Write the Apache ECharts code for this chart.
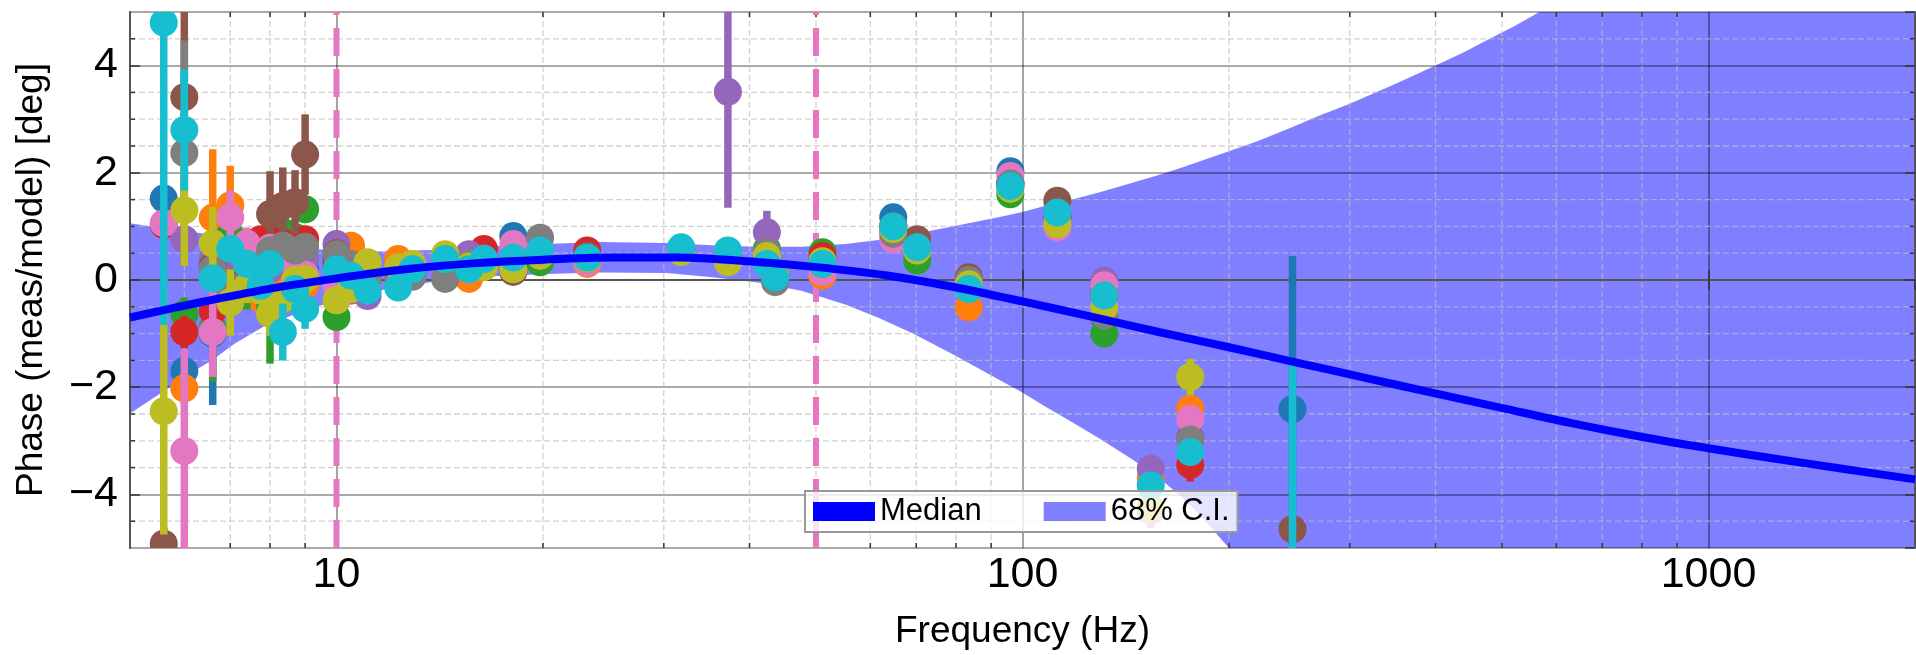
<!DOCTYPE html>
<html>
<head>
<meta charset="utf-8">
<title>Phase residual vs frequency</title>
<script src="https://cdn.jsdelivr.net/npm/echarts@6/dist/echarts.min.js"></script>
<style>
  html, body { margin: 0; padding: 0; background: #ffffff; }
  #chart { width: 1916px; height: 655px; }
</style>
</head>
<body>
<div id="chart"></div>
<script>
// ---------------------------------------------------------------------------
// Data
// ---------------------------------------------------------------------------

// Measurement frequencies (Hz), shared by the ten data sets
const freqs = [5.6, 6.0, 6.6, 7.0, 7.4, 7.75, 8.0, 8.35, 8.7, 9.0,
               10.0, 10.5, 11.1, 12.3, 12.9, 14.4, 15.6, 16.4, 18.1, 19.8,
               23.2, 31.8, 37.2, 42.4, 43.6, 51.1, 64.8, 70.2, 83.5, 96.0,
               112.4, 131.6, 153.8, 175.6, 247.5];

// Phase residual (deg) per data set; null = not measured at that frequency
const phase0 = [1.52, -1.70, -1.00, 0.45, 0.20, 0.10, 0.00, -0.20, -0.10, 0.20,
                0.40, 0.10, 0.10, 0.10, 0.15, 0.30, 0.30, 0.35, 0.82, 0.50,
                0.45, 0.58, 0.45, 0.45, 0.10, 0.35, 1.17, 0.60, -0.05, 2.03,
                1.20, -0.70, null, null, -2.41];
const phase1 = [null, -2.02, 1.16, 1.39, -0.05, -0.35, -0.20, -0.10, 0.10, -0.10,
                0.30, 0.64, 0.10, 0.39, 0.25, 0.30, 0.02, 0.35, 0.40, 0.45,
                0.30, 0.55, 0.45, 0.45, 0.15, 0.08, 0.95, 0.60, -0.51, 1.75,
                1.20, -0.30, -3.70, -2.40, null];
const phase2 = [null, -0.63, -0.90, 0.84, -0.10, 0.05, -0.50, 0.90, 0.80, 1.32,
                -0.69, 0.00, 0.10, 0.10, 0.15, 0.30, 0.30, 0.35, 0.35, 0.33,
                0.40, 0.55, 0.45, 0.58, 0.10, 0.52, 0.95, 0.36, -0.10, 1.60,
                1.15, -1.00, null, null, null];
const phase3 = [1.03, -0.97, -0.58, 0.55, 0.40, 0.76, 0.76, 0.70, 0.50, 0.76,
                0.30, 0.10, 0.10, 0.15, 0.20, 0.35, 0.35, 0.58, 0.40, 0.45,
                0.55, 0.58, 0.50, 0.40, 0.10, 0.45, 1.00, 0.60, -0.05, 1.80,
                1.20, -0.30, null, -3.45, null];
const phase4 = [null, 0.76, 0.40, 0.35, 0.50, 0.20, 0.20, 0.30, 0.20, 0.40,
                0.67, -0.20, -0.30, 0.10, 0.20, 0.30, 0.48, 0.40, 0.45, 0.50,
                0.45, 0.58, 3.51, 0.89, 0.10, 0.35, 1.00, 0.60, 0.00, 1.80,
                1.20, -0.01, -3.52, null, null];
const phase5 = [-4.92, 3.41, 0.26, -0.05, 0.10, 0.35, 1.23, 1.38, 1.45, 2.34,
                0.50, 0.20, 0.10, 0.20, 0.15, 0.30, 0.30, 0.35, 0.15, 0.45,
                0.45, 0.58, 0.45, 0.45, 0.10, 0.35, 1.00, 0.76, 0.05, 1.80,
                1.48, -0.15, null, -2.95, -4.65];
const phase6 = [1.06, -3.19, -0.97, 1.17, 0.68, 0.45, 0.60, 0.45, 0.30, 0.10,
                -0.11, 0.20, -0.10, 0.10, 0.15, 0.30, 0.30, 0.35, 0.67, 0.50,
                0.33, 0.55, 0.50, 0.40, 0.10, 0.15, 0.76, 0.60, -0.10, 1.94,
                0.98, -0.10, -4.30, -2.59, null];
const phase7 = [null, 2.37, 0.20, -0.13, 0.30, 0.25, 0.55, 0.64, 0.55, 0.62,
                0.48, 0.30, 0.00, 0.05, 0.06, 0.02, 0.30, 0.35, 0.35, 0.79,
                0.40, 0.58, 0.45, 0.52, -0.04, 0.30, 0.86, 0.60, 0.00, 1.80,
                1.15, -0.66, null, -2.98, null];
const phase8 = [-2.45, 1.30, 0.68, -0.42, -0.13, -0.20, -0.63, -0.35, 0.00, 0.02,
                -0.38, -0.17, 0.33, 0.24, 0.30, 0.48, 0.25, 0.24, 0.20, 0.45,
                0.40, 0.52, 0.33, 0.45, 0.10, 0.35, 0.95, 0.55, -0.08, 1.70,
                1.04, -0.51, -4.25, -1.81, null];
const phase9 = [4.80, 2.80, 0.03, 0.58, 0.30, -0.11, 0.30, -0.97, -0.17, -0.54,
                0.20, 0.08, -0.20, -0.14, 0.20, 0.39, 0.20, 0.39, 0.42, 0.55,
                0.42, 0.61, 0.55, 0.30, 0.05, 0.30, 1.00, 0.61, -0.17, 1.75,
                1.26, -0.29, -3.83, -3.21, -5.60];

// One-sigma phase uncertainty (deg) per data set
const err0 = [0.20, 0.30, 1.33, 0.15, 0.15, 0.15, 0.15, 0.15, 0.15, 0.15,
              0.15, 0.15, 0.15, 0.15, 0.15, 0.15, 0.15, 0.15, 0.15, 0.15,
              0.15, 0.15, 0.15, 0.15, 0.15, 0.15, 0.15, 0.15, 0.15, 0.15,
              0.15, 0.15, 0.15, 0.15, 2.86];
const err1 = [0.15, 0.30, 1.28, 0.74, 0.15, 0.15, 0.15, 0.15, 0.15, 0.15,
              0.15, 0.15, 0.15, 0.15, 0.15, 0.15, 0.15, 0.15, 0.15, 0.15,
              0.15, 0.15, 0.15, 0.15, 0.15, 0.15, 0.15, 0.15, 0.15, 0.15,
              0.15, 0.15, 0.15, 0.15, 0.15];
const err2 = [0.15, 0.30, 1.00, 0.15, 0.45, 0.15, 1.06, 0.15, 0.15, 0.15,
              0.20, 0.15, 0.15, 0.15, 0.15, 0.15, 0.15, 0.15, 0.15, 0.15,
              0.15, 0.15, 0.15, 0.15, 0.15, 0.15, 0.15, 0.15, 0.15, 0.15,
              0.15, 0.15, 0.15, 0.15, 0.15];
const err3 = [0.20, 0.30, 0.15, 0.15, 0.15, 0.15, 0.15, 0.15, 0.15, 0.15,
              0.15, 0.15, 0.15, 0.15, 0.15, 0.15, 0.15, 0.15, 0.15, 0.15,
              0.15, 0.15, 0.15, 0.15, 0.15, 0.15, 0.15, 0.15, 0.15, 0.15,
              0.15, 0.15, 0.15, 0.31, 0.15];
const err4 = [0.15, 0.50, 0.15, 0.15, 0.15, 0.15, 0.15, 0.15, 0.15, 0.15,
              0.15, 0.15, 0.15, 0.15, 0.15, 0.15, 0.15, 0.15, 0.15, 0.15,
              0.15, 0.15, 2.16, 0.40, 0.15, 0.15, 0.15, 0.15, 0.15, 0.15,
              0.15, 0.15, 0.15, 0.15, 0.15];
const err5 = [0.30, 2.20, 0.15, 0.15, 0.15, 0.15, 0.80, 0.72, 0.60, 0.75,
              0.15, 0.15, 0.15, 0.15, 0.15, 0.15, 0.15, 0.15, 0.15, 0.15,
              0.15, 0.15, 0.15, 0.15, 0.15, 0.15, 0.15, 0.15, 0.15, 0.15,
              0.15, 0.15, 0.15, 0.15, 0.15];
const err6 = [0.20, 1.90, 0.84, 0.50, 0.30, 0.15, 0.15, 0.15, 0.15, 0.15,
              0.15, 0.15, 0.15, 0.15, 0.15, 0.15, 0.15, 0.15, 0.15, 0.15,
              0.15, 0.15, 0.15, 0.15, 0.15, 0.15, 0.15, 0.15, 0.15, 0.15,
              0.15, 0.15, 0.33, 0.15, 0.15];
const err7 = [0.15, 2.10, 0.15, 0.15, 0.15, 0.15, 0.15, 0.15, 0.15, 0.15,
              0.15, 0.15, 0.15, 0.15, 0.15, 0.15, 0.15, 0.15, 0.15, 0.15,
              0.15, 0.15, 0.15, 0.15, 0.15, 0.15, 0.15, 0.15, 0.15, 0.15,
              0.15, 0.15, 0.15, 0.15, 0.15];
const err8 = [2.30, 1.04, 0.68, 0.62, 0.30, 0.15, 0.41, 0.15, 0.15, 0.15,
              0.15, 0.15, 0.15, 0.15, 0.15, 0.15, 0.15, 0.15, 0.15, 0.15,
              0.15, 0.15, 0.15, 0.15, 0.15, 0.15, 0.15, 0.15, 0.15, 0.15,
              0.15, 0.15, 0.30, 0.34, 0.15];
const err9 = [5.64, 1.13, 0.15, 0.15, 0.15, 0.15, 0.15, 0.53, 0.15, 0.37,
              0.15, 0.15, 0.15, 0.15, 0.15, 0.15, 0.15, 0.15, 0.15, 0.15,
              0.15, 0.15, 0.15, 0.15, 0.15, 0.15, 0.15, 0.15, 0.15, 0.15,
              0.15, 0.15, 0.15, 0.15, 4.07];

// Model posterior: 68% credible interval (deg)
const ciFreq = [5, 5.5, 6, 6.6, 7.1, 7.9, 8.6, 9.5, 10, 11.7,
                13.7, 16.2, 20.2, 24.2, 30.3, 35.3, 40.9, 47.6, 55.3, 62,
                69, 80, 93, 100, 107, 117, 130, 145, 158, 170,
                181, 200, 220, 246, 270, 300, 350, 400, 440, 483,
                520, 567, 700, 1000, 1550, 2000];
const ciHigh = [1.06, 0.98, 0.92, 0.84, 0.74, 0.64, 0.60, 0.57, 0.55, 0.53,
                0.56, 0.62, 0.67, 0.71, 0.69, 0.65, 0.62, 0.62, 0.67, 0.75,
                0.85, 1.01, 1.18, 1.27, 1.37, 1.49, 1.64, 1.82, 1.96, 2.09,
                2.21, 2.40, 2.59, 2.84, 3.06, 3.29, 3.66, 4.00, 4.25, 4.52,
                4.73, 5.00, 5.00, 5.00, 5.00, 5.00];
const ciLow  = [-2.49, -2.14, -1.81, -1.49, -1.19, -0.84, -0.66, -0.47, -0.40, -0.18,
                -0.04, 0.06, 0.11, 0.14, 0.13, 0.05, -0.04, -0.20, -0.46, -0.72,
                -0.99, -1.42, -1.88, -2.10, -2.33, -2.62, -2.97, -3.36, -3.69, -4.03,
                -4.37, -5.00, -5.00, -5.00, -5.00, -5.00, -5.00, -5.00, -5.00, -5.00,
                -5.00, -5.00, -5.00, -5.00, -5.00, -5.00];

// Model posterior median (deg), tenth-of-a-decade steps
const medFreq   = [5, 6.31, 7.94, 10, 12.6, 15.8, 20, 25.1, 31.6, 39.8,
                   50.1, 63.1, 79.4, 100, 126, 158, 200, 251, 316, 398,
                   501, 631, 794, 1000, 1259, 1585, 2000];
const medianVal = [-0.70, -0.42, -0.17, 0.03, 0.20, 0.31, 0.38, 0.42, 0.42, 0.35,
                   0.24, 0.09, -0.13, -0.40, -0.685, -0.97, -1.255, -1.54, -1.825, -2.11,
                   -2.39, -2.67, -2.92, -3.14, -3.34, -3.53, -3.72];

// Reference frequencies marked with dashed lines (Hz)
const refFreqs = [10, 50];

// Tick labels and minor grid positions
const xTickLabels = [10, 100, 1000];
const yTickLabels = [-4, -2, 0, 2, 4];
const xMinor = [6, 7, 8, 9, 20, 30, 40, 50, 60, 70, 80, 90,
                200, 300, 400, 500, 600, 700, 800, 900];
const yMinor = [-4.5, -3.5, -3, -2.5, -1.5, -1, -0.5, 0.5, 1, 1.5, 2.5, 3, 3.5, 4.5];

// ---------------------------------------------------------------------------
// Styling
// ---------------------------------------------------------------------------
const FONT = 'Liberation Sans';
const setColors = ['#1f77b4', '#ff7f0e', '#2ca02c', '#d62728', '#9467bd',
                   '#8c564b', '#e377c2', '#7f7f7f', '#bcbd22', '#17becf'];
const phaseSets = [phase0, phase1, phase2, phase3, phase4, phase5, phase6, phase7, phase8, phase9];
const errSets = [err0, err1, err2, err3, err4, err5, err6, err7, err8, err9];

const X_MIN = 5, X_MAX = 2000, Y_MIN = -5, Y_MAX = 5;
const MAJOR_TICK = 10, MINOR_TICK = 5;
const TICK_COLOR = '#333333';
const MINOR_GRID = 'rgba(190,190,190,0.7)';

function sameValue(a, b) { return Math.abs(a - b) <= 1e-6 * Math.max(1, Math.abs(b)); }

// Confidence band: polygon along the upper edge and back along the lower edge
function renderBand(params, api) {
  const pts = [];
  for (let i = 0; i < ciFreq.length; i++) pts.push(api.coord([ciFreq[i], ciHigh[i]]));
  for (let i = ciFreq.length - 1; i >= 0; i--) pts.push(api.coord([ciFreq[i], ciLow[i]]));
  return { type: 'polygon', shape: { points: pts }, style: { fill: 'rgba(0,0,255,0.5)' } };
}

// Minor vertical grid lines (log decades) with inward ticks top and bottom
function renderXMinor(params, api) {
  const cs = params.coordSys;
  const px = api.coord([api.value(0), 0])[0];
  const yb = cs.y + cs.height, yt = cs.y;
  return {
    type: 'group',
    children: [
      { type: 'line', shape: { x1: px, y1: yt, x2: px, y2: yb },
        style: { stroke: MINOR_GRID, lineWidth: 1.3, lineDash: [6, 3] } },
      { type: 'line', shape: { x1: px, y1: yb, x2: px, y2: yb - MINOR_TICK },
        style: { stroke: TICK_COLOR, lineWidth: 1.5 } },
      { type: 'line', shape: { x1: px, y1: yt, x2: px, y2: yt + MINOR_TICK },
        style: { stroke: TICK_COLOR, lineWidth: 1.5 } }
    ]
  };
}

// Minor horizontal grid lines with inward ticks left and right
function renderYMinor(params, api) {
  const cs = params.coordSys;
  const py = api.coord([X_MIN, api.value(1)])[1];
  const xl = cs.x, xr = cs.x + cs.width;
  return {
    type: 'group',
    children: [
      { type: 'line', shape: { x1: xl, y1: py, x2: xr, y2: py },
        style: { stroke: MINOR_GRID, lineWidth: 1.3, lineDash: [6, 3] } },
      { type: 'line', shape: { x1: xl, y1: py, x2: xl + MINOR_TICK, y2: py },
        style: { stroke: TICK_COLOR, lineWidth: 1.5 } },
      { type: 'line', shape: { x1: xr, y1: py, x2: xr - MINOR_TICK, y2: py },
        style: { stroke: TICK_COLOR, lineWidth: 1.5 } }
    ]
  };
}

// Dashed vertical reference lines, dash pattern starting at the bottom
function renderRefLine(params, api) {
  const cs = params.coordSys;
  const px = api.coord([api.value(0), 0])[0];
  return {
    type: 'line',
    shape: { x1: px, y1: cs.y + cs.height, x2: px, y2: cs.y },
    style: { stroke: '#e377c2', lineWidth: 6, lineDash: [28, 13] }
  };
}

// Measurement: vertical error bar plus a filled circle
function renderPoint(params, api) {
  const f = api.value(0), v = api.value(1), e = api.value(2);
  const c = api.coord([f, v]);
  const top = api.coord([f, v + e]);
  const bot = api.coord([f, v - e]);
  const color = api.visual('color');
  return {
    type: 'group',
    children: [
      { type: 'rect', shape: { x: c[0] - 3.75, y: top[1], width: 7.5, height: bot[1] - top[1] },
        style: { fill: color } },
      { type: 'circle', shape: { cx: c[0], cy: c[1], r: 14 }, style: { fill: color } }
    ]
  };
}

const series = [];

series.push({
  name: '68% C.I.',
  type: 'custom',
  renderItem: renderBand,
  data: [[ciFreq[0], ciLow[0]]],
  encode: { x: 0, y: 1 },
  clip: true,
  silent: true,
  z: 0,
  itemStyle: { color: 'rgba(0,0,255,0.5)' }
});

series.push({
  name: 'xMinorGrid',
  type: 'custom',
  renderItem: renderXMinor,
  data: xMinor.map(f => [f, 0]),
  encode: { x: 0, y: 1 },
  silent: true,
  z: 1
});

series.push({
  name: 'yMinorGrid',
  type: 'custom',
  renderItem: renderYMinor,
  data: yMinor.map(v => [X_MIN, v]),
  encode: { x: 0, y: 1 },
  silent: true,
  z: 1
});

series.push({
  name: 'refLines',
  type: 'custom',
  renderItem: renderRefLine,
  data: refFreqs.map(f => [f, 0]),
  encode: { x: 0, y: 1 },
  clip: true,
  silent: true,
  z: 1.5
});

series.push({
  name: 'Median',
  type: 'line',
  data: medFreq.map((f, i) => [f, medianVal[i]]),
  showSymbol: false,
  symbol: 'none',
  smooth: 0.3,
  clip: true,
  lineStyle: { color: '#0000ff', width: 8 },
  itemStyle: { color: '#0000ff' },
  silent: true,
  z: 2
});

phaseSets.forEach((vals, k) => {
  const data = [];
  freqs.forEach((f, i) => {
    if (vals[i] !== null) data.push([f, vals[i], errSets[k][i]]);
  });
  series.push({
    name: 'set' + k,
    type: 'custom',
    renderItem: renderPoint,
    data: data,
    encode: { x: 0, y: 1 },
    clip: true,
    silent: true,
    itemStyle: { color: setColors[k] },
    z: 2
  });
});

const axisLineStyle = { color: '#555555', width: 2 };
const majorTickStyle = { color: TICK_COLOR, width: 1.5 };
const majorGrid = { show: true, lineStyle: { color: 'rgba(0,0,0,0.45)', width: 1.6 } };

const option = {
  animation: false,
  backgroundColor: '#ffffff',
  textStyle: { fontFamily: FONT },
  grid: { left: 130, right: 1, top: 12, bottom: 105 },
  legend: {
    left: 805,
    top: 491,
    orient: 'horizontal',
    padding: [5, 8, 5, 8],
    itemWidth: 62,
    itemHeight: 19,
    itemGap: 62,
    backgroundColor: 'rgba(255,255,255,0.8)',
    borderColor: '#999999',
    borderWidth: 2,
    borderRadius: 0,
    selectedMode: false,
    z: 10,
    textStyle: { fontFamily: FONT, fontSize: 31, color: '#000000' },
    data: [
      { name: 'Median', icon: 'rect', itemStyle: { color: '#0000ff', borderWidth: 0 } },
      { name: '68% C.I.', icon: 'rect', itemStyle: { color: 'rgba(0,0,255,0.5)', borderWidth: 0 } }
    ]
  },
  xAxis: [
    {
      type: 'log',
      logBase: 10,
      min: X_MIN,
      max: X_MAX,
      position: 'bottom',
      z: 1,
      name: 'Frequency (Hz)',
      nameLocation: 'middle',
      nameGap: 65,
      nameTextStyle: { fontFamily: FONT, fontSize: 37, color: '#000000' },
      axisLine: { show: true, lineStyle: axisLineStyle },
      axisTick: { show: true, inside: true, length: MAJOR_TICK, lineStyle: majorTickStyle },
      axisLabel: {
        show: true, margin: 6, fontFamily: FONT, fontSize: 43, color: '#000000',
        showMinLabel: false, showMaxLabel: false,
        formatter: v => {
          const t = xTickLabels.find(x => sameValue(v, x));
          return t === undefined ? '' : String(t);
        }
      },
      splitLine: majorGrid,
      minorTick: { show: false },
      minorSplitLine: { show: false }
    },
    {
      type: 'log',
      logBase: 10,
      min: X_MIN,
      max: X_MAX,
      position: 'top',
      z: 1,
      axisLine: { show: true, lineStyle: axisLineStyle },
      axisTick: { show: true, inside: true, length: MAJOR_TICK, lineStyle: majorTickStyle },
      axisLabel: { show: false },
      splitLine: { show: false }
    }
  ],
  yAxis: [
    {
      type: 'value',
      min: Y_MIN,
      max: Y_MAX,
      splitNumber: 5,
      position: 'left',
      z: 1,
      name: 'Phase (meas/model) [deg]',
      nameLocation: 'middle',
      nameRotate: 90,
      nameGap: 80,
      nameTextStyle: { fontFamily: FONT, fontSize: 37, color: '#000000' },
      axisLine: { show: true, lineStyle: axisLineStyle },
      axisTick: { show: true, inside: true, length: MAJOR_TICK, lineStyle: majorTickStyle },
      axisLabel: {
        show: true, margin: 12, fontFamily: FONT, fontSize: 43, color: '#000000',
        showMinLabel: false, showMaxLabel: false,
        formatter: v => {
          const t = yTickLabels.find(y => sameValue(v, y));
          if (t === undefined) return '';
          return t < 0 ? '\u2212' + Math.abs(t) : String(t);
        }
      },
      splitLine: majorGrid
    },
    {
      type: 'value',
      min: Y_MIN,
      max: Y_MAX,
      splitNumber: 5,
      position: 'right',
      z: 1,
      axisLine: { show: true, lineStyle: axisLineStyle },
      axisTick: { show: true, inside: true, length: MAJOR_TICK, lineStyle: majorTickStyle },
      axisLabel: { show: false },
      splitLine: { show: false }
    }
  ],
  series: series
};

const chart = echarts.init(document.getElementById('chart'), null, { renderer: 'canvas' });
chart.setOption(option);
</script>
</body>
</html>
